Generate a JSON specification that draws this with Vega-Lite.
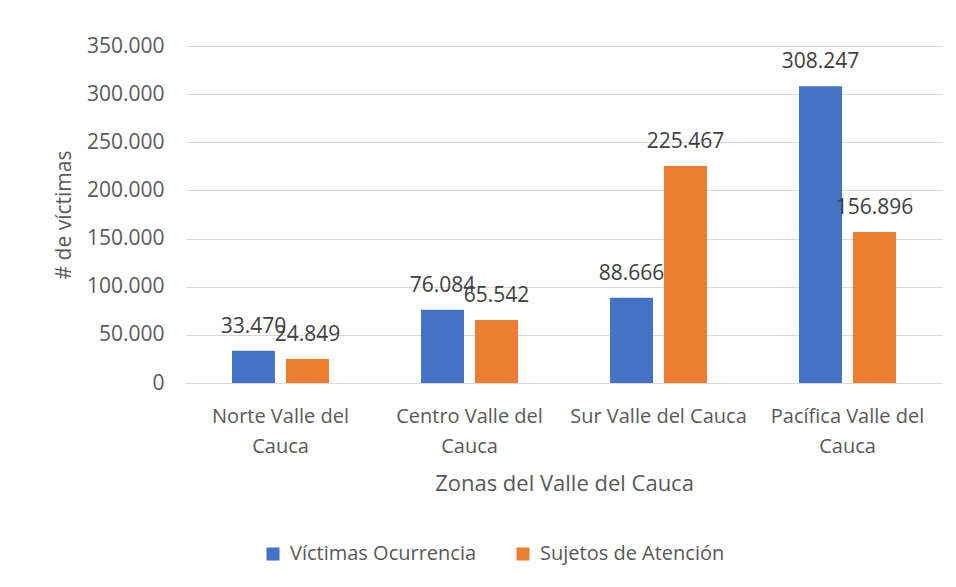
{
  "$schema": "https://vega.github.io/schema/vega-lite/v6.json",
  "autosize": {"type": "none"},
  "padding": {"left": 186, "top": 46, "right": 14, "bottom": 204},
  "width": 756,
  "height": 337,
  "background": "white",
  "config": {
    "view": {"stroke": null},
    "font": "Open Sans",
    "locale": {"number": {"decimal": ",", "thousands": ".", "grouping": [3], "currency": ["$", ""]}}
  },
  "data": {
    "values": [
      {"zona": "Norte Valle del Cauca", "serie": "Víctimas Ocurrencia", "valor": 33470},
      {"zona": "Norte Valle del Cauca", "serie": "Sujetos de Atención", "valor": 24849},
      {"zona": "Centro Valle del Cauca", "serie": "Víctimas Ocurrencia", "valor": 76084},
      {"zona": "Centro Valle del Cauca", "serie": "Sujetos de Atención", "valor": 65542},
      {"zona": "Sur Valle del Cauca", "serie": "Víctimas Ocurrencia", "valor": 88666},
      {"zona": "Sur Valle del Cauca", "serie": "Sujetos de Atención", "valor": 225467},
      {"zona": "Pacífica Valle del Cauca", "serie": "Víctimas Ocurrencia", "valor": 308247},
      {"zona": "Pacífica Valle del Cauca", "serie": "Sujetos de Atención", "valor": 156896}
    ]
  },
  "encoding": {
    "x": {
      "field": "zona", "type": "nominal",
      "sort": ["Norte Valle del Cauca", "Centro Valle del Cauca", "Sur Valle del Cauca", "Pacífica Valle del Cauca"],
      "scale": {"paddingInner": 0.487, "paddingOuter": 0.2435},
      "axis": {
        "title": "Zonas del Valle del Cauca",
        "titleFont": "Open Sans", "titleFontSize": 22, "titleFontWeight": "normal", "titleColor": "#595959",
        "titlePadding": 17,
        "labelFont": "Open Sans", "labelFontSize": 20, "labelColor": "#595959",
        "labelAngle": 0, "labelPadding": 23, "labelLineHeight": 30, "labelLimit": 300,
        "labelExpr": "indexof(datum.label, 'Sur') == 0 ? datum.label : [replace(datum.label, ' Cauca', ''), 'Cauca']",
        "ticks": false,
        "domainColor": "#d9d9d9", "domainWidth": 1
      }
    },
    "xOffset": {
      "field": "serie", "type": "nominal",
      "sort": ["Víctimas Ocurrencia", "Sujetos de Atención"],
      "scale": {"paddingInner": 0.204, "paddingOuter": 0}
    },
    "y": {
      "field": "valor", "type": "quantitative",
      "scale": {"domain": [0, 350000], "nice": false},
      "axis": {
        "title": "# de víctimas",
        "titleFont": "Open Sans", "titleFontSize": 21, "titleFontWeight": "normal", "titleColor": "#595959",
        "titlePadding": 12,
        "values": [0, 50000, 100000, 150000, 200000, 250000, 300000, 350000],
        "format": ",d",
        "labelFont": "Open Sans", "labelFontSize": 21, "labelColor": "#595959", "labelPadding": 22,
        "ticks": false, "domain": false,
        "grid": true, "gridColor": "#d9d9d9", "gridWidth": 1
      }
    }
  },
  "layer": [
    {
      "mark": {"type": "bar"},
      "encoding": {
        "color": {
          "field": "serie", "type": "nominal",
          "sort": ["Víctimas Ocurrencia", "Sujetos de Atención"],
          "scale": {"domain": ["Víctimas Ocurrencia", "Sujetos de Atención"], "range": ["#4472C4", "#ED7D31"]},
          "legend": {
            "title": null, "orient": "none", "direction": "horizontal",
            "legendX": 77, "legendY": 498,
            "symbolType": "square", "symbolSize": 170, "symbolStrokeWidth": 0,
            "labelFont": "Open Sans", "labelFontSize": 20, "labelColor": "#595959",
            "labelOffset": 7, "columnPadding": 36, "labelLimit": 400
          }
        }
      }
    },
    {
      "mark": {"type": "text", "baseline": "alphabetic", "dy": -18, "font": "Open Sans", "fontSize": 21, "color": "#404040"},
      "encoding": {
        "text": {"field": "valor", "type": "quantitative", "format": ",d"}
      }
    }
  ]
}
